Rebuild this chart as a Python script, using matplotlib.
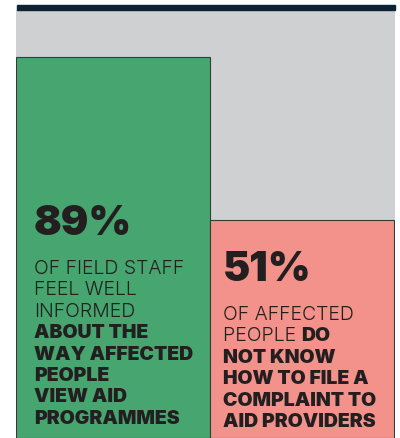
import matplotlib.pyplot as plt
from matplotlib.patches import Rectangle

# data
values = [89, 51]
headlines = ["89%", "51%"]
bar_colors = ["#47A56F", "#F2928A"]
# each caption line is a list of (text, bold) pieces
captions = [
    [[("OF FIELD STAFF", False)],
     [("FEEL WELL", False)],
     [("INFORMED", False)],
     [("ABOUT THE", True)],
     [("WAY AFFECTED", True)],
     [("PEOPLE", True)],
     [("VIEW AID", True)],
     [("PROGRAMMES", True)]],
    [[("OF AFFECTED", False)],
     [("PEOPLE ", False), ("DO", True)],
     [("NOT KNOW", True)],
     [("HOW TO FILE A", True)],
     [("COMPLAINT TO", True)],
     [("AID PROVIDERS", True)]],
]

W, H = 400, 439
fig = plt.figure(figsize=(W / 100, H / 100), dpi=100)
fig.patch.set_facecolor("white")

# axes covers grey panel: x 16..395 px, y 11..439 px (from top)
ax = fig.add_axes([16 / W, 0, 379 / W, 428 / H])
ax.set_facecolor("#CFD0D2")
ax.set_xlim(0, 379)
ax.set_ylim(0, 100)
for s in ax.spines.values():
    s.set_visible(False)
ax.set_xticks([])
ax.set_yticks([])

widths = [194, 184]
lefts = [0, widths[0]]
ax.bar(lefts, values, width=widths, align="edge", color=bar_colors,
       edgecolor="#3a3a3a", linewidth=0.8)

# dark band on top
fig.patches.append(Rectangle((17 / W, 1 - 11 / H), 378 / W, 5 / H,
                             transform=fig.transFigure, color="#0D2233"))


def ypx(y):
    # pixel from top of figure -> data y
    return (439 - y) / 4.28


text_x = [18, 13]          # px offset from bar left
head_base = [235, 281]     # baseline of headline, px from top
body_base = [274, 320]     # baseline of first caption line
line_step = 21.4

for i in range(2):
    x0 = lefts[i] + text_x[i]
    ax.text(x0, ypx(head_base[i]), headlines[i], fontsize=29.5,
            family="Inter", weight=900, color="#231F20", va="baseline")
    for j, line in enumerate(captions[i]):
        y = ypx(body_base[i] + j * line_step)
        prev = None
        for txt, bold in line:
            kw = dict(fontsize=14, family="Inter", color="#231F20",
                      weight=900 if bold else 300)
            if prev is None:
                prev = ax.text(x0, y, txt, va="baseline", **kw)
            else:
                prev = ax.annotate(txt, xy=(1, 0), xycoords=prev,
                                   va="bottom", **kw)

fig.savefig("out.png", dpi=100)
